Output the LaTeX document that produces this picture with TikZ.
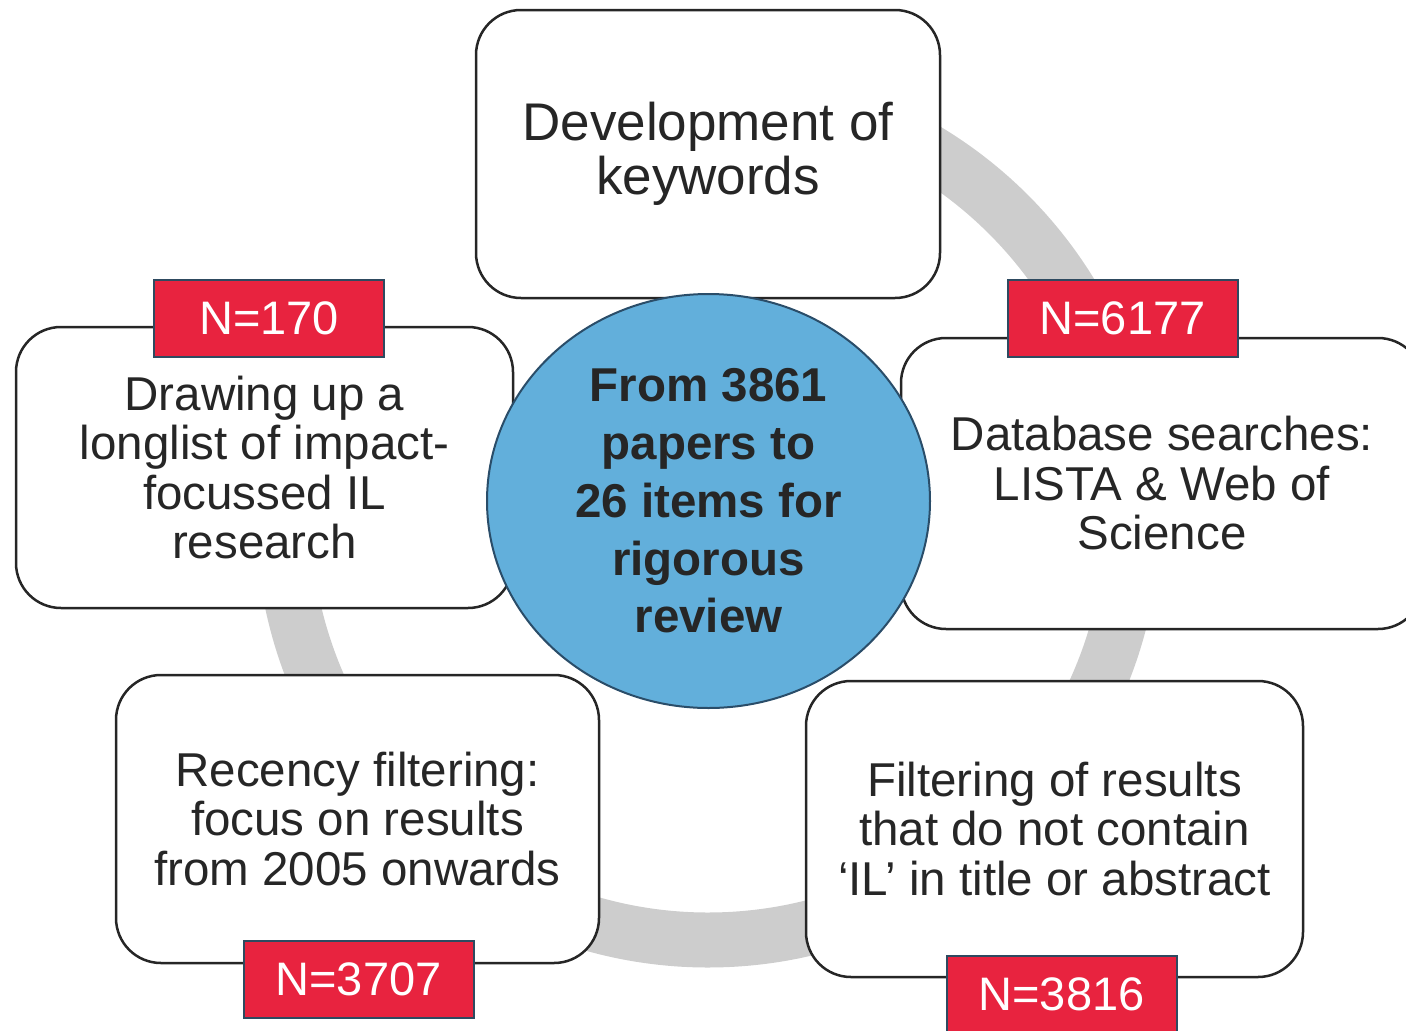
\documentclass[tikz,border=0pt]{standalone}
\usepackage{fontspec}
\setmainfont{Liberation Sans}
\usetikzlibrary{shapes.geometric}
\definecolor{ringgray}{HTML}{CDCDCD}
\definecolor{hubblue}{HTML}{62AFDB}
\definecolor{hubedge}{HTML}{2A4D69}
\definecolor{tagred}{HTML}{E8233F}
\definecolor{tagedge}{HTML}{2E4A60}
\definecolor{ink}{HTML}{262626}

\begin{document}
\begin{tikzpicture}[x=1pt,y=-1pt,
  stage/.style={draw=ink, line width=2.5pt, fill=white, rounded corners=45pt,
    align=center, text=ink, inner sep=0pt,
    font=\fontsize{47.5}{49.5}\selectfont},
  tag/.style={draw=tagedge, line width=2pt, fill=tagred, text=white,
    minimum width=230pt, minimum height=77pt, inner sep=0pt,
    font=\fontsize{47}{50}\selectfont},
  hub/.style={ellipse, draw=hubedge, line width=2pt, fill=hubblue,
    minimum width=443pt, minimum height=414pt, inner sep=0pt,
    align=center, text=ink, font=\bfseries\fontsize{47.5}{57.7}\selectfont}]

\useasboundingbox (0,0) rectangle (1406,1031);
\clip (0,0) rectangle (1406,1031);

% grey cycle arc behind the stages: from the first stage round to the last
\coordinate (ringstart) at (708,90);
\draw[ringgray, line width=55pt] (ringstart)
  arc[start angle=-90, end angle=200, radius=425];

% the five stages
\node[stage, minimum width=464pt, minimum height=288pt,
  font=\fontsize{53}{54}\selectfont] (keywords) at (708,154)
  {Development of\\keywords};
\node[stage, minimum width=522pt, minimum height=291pt] (search) at (1162,483.5)
  {Database searches:\\LISTA \& Web of\\Science};
\node[stage, minimum width=497pt, minimum height=296pt] (ilfilter) at (1054.5,829)
  {Filtering of results\\that do not contain\\‘IL’ in title or abstract};
\node[stage, minimum width=483pt, minimum height=288pt] (recency) at (357.5,819)
  {Recency filtering:\\focus on results\\from 2005 onwards};
\node[stage, minimum width=497pt, minimum height=281pt] (longlist) at (264.5,467.5)
  {Drawing up a\\longlist of impact-\\focussed IL\\research};

% central summary
\node[hub] (hub) at (708.5,501)
  {From 3861\\papers to\\26 items for\\rigorous\\review};

% counts after each stage
\node[tag] (n170) at (269,318) {N=170};
\node[tag] (n6177) at (1122.5,318) {N=6177};
\node[tag] (n3707) at (358.5,979) {N=3707};
\node[tag] (n3816) at (1061.5,994.5) {N=3816};
\end{tikzpicture}
\end{document}
